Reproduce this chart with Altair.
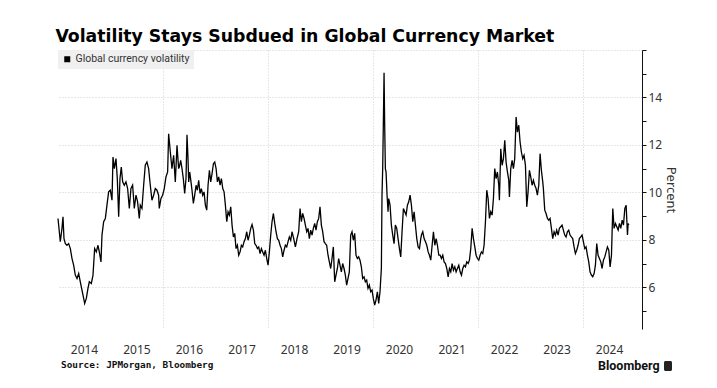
import altair as alt
import pandas as pd

# ---- data (decimal year, percent) ----
years_a = [2014.000, 2014.025, 2014.044, 2014.076, 2014.095, 2014.114, 2014.140, 2014.171, 2014.203, 2014.235,
           2014.267, 2014.298, 2014.330, 2014.362, 2014.394, 2014.425, 2014.457, 2014.489, 2014.508, 2014.540,
           2014.571, 2014.597, 2014.635, 2014.667, 2014.698, 2014.730, 2014.762, 2014.787, 2014.819, 2014.838,
           2014.870, 2014.902, 2014.933, 2014.965, 2014.997, 2015.029, 2015.048, 2015.073, 2015.105, 2015.130,
           2015.156, 2015.181, 2015.206, 2015.232, 2015.263, 2015.295, 2015.327, 2015.359, 2015.390, 2015.422,
           2015.454, 2015.486, 2015.517, 2015.549, 2015.568, 2015.600, 2015.632, 2015.663, 2015.695, 2015.727,
           2015.759, 2015.790, 2015.822, 2015.854, 2015.886, 2015.917, 2015.930, 2015.962, 2015.994, 2016.025,
           2016.057, 2016.089, 2016.108, 2016.140, 2016.171, 2016.203, 2016.235, 2016.267, 2016.298]
vals_a = [8.90, 8.34, 7.92, 8.48, 8.97, 8.05, 7.84, 7.77, 7.84, 7.63,
          7.21, 6.93, 6.51, 6.37, 6.58, 6.23, 5.88, 5.53, 5.32, 5.53,
          5.95, 6.23, 6.16, 6.51, 7.63, 7.49, 7.77, 7.49, 7.07, 8.20,
          8.76, 8.90, 9.46, 10.02, 10.09, 9.67, 11.49, 11.00, 11.42, 10.58,
          8.97, 10.58, 11.07, 10.44, 10.30, 10.44, 10.16, 9.32, 10.16, 10.30,
          9.32, 9.88, 9.60, 8.90, 9.46, 9.32, 10.30, 11.14, 11.28, 11.00,
          10.30, 9.67, 9.88, 10.16, 10.09, 9.88, 9.32, 9.74, 9.88, 10.16,
          10.65, 10.86, 12.47, 11.70, 11.00, 11.56, 10.44, 11.98, 11.00]

years_b = [2016.311, 2016.337, 2016.362, 2016.387, 2016.413, 2016.438, 2016.457, 2016.476, 2016.489, 2016.508,
           2016.533, 2016.552, 2016.578, 2016.603, 2016.629, 2016.654, 2016.679, 2016.705, 2016.730, 2016.756,
           2016.781, 2016.806, 2016.832, 2016.857, 2016.883, 2016.908, 2016.933, 2016.959, 2016.984, 2017.010,
           2017.035, 2017.060, 2017.086, 2017.111, 2017.137, 2017.162, 2017.187, 2017.213, 2017.238, 2017.263,
           2017.289, 2017.314, 2017.340, 2017.365, 2017.390, 2017.416, 2017.441, 2017.467, 2017.492, 2017.517,
           2017.543, 2017.568, 2017.594, 2017.619, 2017.644, 2017.670, 2017.695, 2017.721, 2017.746, 2017.771,
           2017.797, 2017.822, 2017.848, 2017.873, 2017.898, 2017.924, 2017.949, 2017.975, 2018.000, 2018.025,
           2018.051, 2018.076, 2018.102, 2018.127, 2018.152, 2018.178, 2018.203, 2018.229, 2018.254, 2018.279,
           2018.305, 2018.330, 2018.356, 2018.381, 2018.406, 2018.432]
vals_b = [11.07, 11.35, 11.00, 10.58, 9.95, 10.58, 12.43, 11.42, 10.44, 10.86,
          10.44, 10.09, 9.53, 9.88, 10.30, 10.09, 10.51, 9.95, 10.16, 9.88,
          10.02, 9.46, 9.25, 10.30, 10.93, 10.44, 10.79, 11.21, 11.28, 11.00,
          10.44, 10.65, 10.30, 10.58, 10.16, 10.02, 9.46, 8.76, 9.18, 9.04,
          9.39, 8.62, 8.12, 8.27, 7.63, 7.77, 7.35, 7.49, 7.77, 7.70,
          7.92, 8.05, 8.34, 7.98, 8.20, 8.48, 8.64, 8.41, 7.84, 7.77,
          7.63, 7.70, 7.42, 7.63, 7.49, 7.35, 7.56, 7.21, 6.93, 7.49,
          8.20, 8.76, 9.11, 8.69, 8.34, 8.05, 7.98, 7.77, 7.63, 7.28,
          7.56, 7.77, 7.70, 7.92, 8.12, 7.98]

years_c = [2018.457, 2018.489, 2018.521, 2018.552, 2018.584, 2018.610, 2018.635, 2018.660, 2018.686, 2018.711,
           2018.737, 2018.762, 2018.787, 2018.813, 2018.838, 2018.863, 2018.889, 2018.914, 2018.940, 2018.965,
           2018.990, 2019.016, 2019.041, 2019.067, 2019.092, 2019.117, 2019.143, 2019.168, 2019.194, 2019.219,
           2019.244, 2019.270, 2019.295, 2019.321, 2019.346, 2019.371, 2019.397, 2019.422, 2019.448, 2019.473,
           2019.498, 2019.524, 2019.549, 2019.575, 2019.600, 2019.625, 2019.651, 2019.676, 2019.702, 2019.727,
           2019.752, 2019.778, 2019.803, 2019.829, 2019.854, 2019.879, 2019.905, 2019.930, 2019.956, 2019.981,
           2020.006, 2020.032, 2020.057, 2020.083, 2020.108, 2020.133, 2020.159, 2020.171, 2020.184, 2020.197,
           2020.210, 2020.222, 2020.235, 2020.248, 2020.267, 2020.286, 2020.298, 2020.324, 2020.349, 2020.375,
           2020.400, 2020.425, 2020.451, 2020.476, 2020.502, 2020.527, 2020.552, 2020.578, 2020.603, 2020.629,
           2020.654, 2020.679, 2020.705, 2020.730, 2020.756, 2020.781, 2020.806, 2020.832, 2020.857, 2020.883,
           2020.908]
vals_c = [8.34, 8.05, 7.70, 8.05, 8.34, 9.32, 8.76, 9.11, 8.90, 8.62,
          8.34, 8.48, 8.05, 8.41, 8.20, 8.48, 8.69, 8.41, 8.76, 8.90,
          9.39, 8.62, 8.34, 7.92, 7.84, 7.77, 7.35, 7.07, 6.79, 7.21,
          7.70, 6.23, 6.51, 6.79, 7.21, 6.93, 6.65, 7.00, 6.79, 6.51,
          6.09, 6.37, 6.65, 8.20, 8.34, 7.98, 8.27, 7.35, 7.21, 7.28,
          7.14, 6.86, 6.37, 6.44, 6.23, 6.30, 5.95, 6.09, 5.81, 5.88,
          5.53, 5.25, 5.46, 5.81, 5.32, 5.81, 6.79, 9.88, 11.00, 12.97,
          15.04, 12.83, 11.00, 10.86, 9.88, 9.18, 9.74, 9.46, 8.62, 8.20,
          7.84, 8.62, 8.48, 8.05, 7.63, 7.28, 8.34, 9.32, 9.18, 9.04,
          9.46, 9.60, 9.88, 9.46, 8.76, 9.18, 8.62, 8.05, 7.70, 7.63,
          8.05]

years_d = [2020.921, 2020.946, 2020.971, 2020.997, 2021.022, 2021.048, 2021.073, 2021.098, 2021.124, 2021.149,
           2021.175, 2021.200, 2021.225, 2021.251, 2021.276, 2021.302, 2021.327, 2021.352, 2021.378, 2021.403,
           2021.429, 2021.454, 2021.479, 2021.505, 2021.530, 2021.556, 2021.581, 2021.606, 2021.632, 2021.657,
           2021.683, 2021.708, 2021.733, 2021.759, 2021.784, 2021.810, 2021.835, 2021.860, 2021.886, 2021.911,
           2021.937, 2021.962, 2021.987, 2022.013, 2022.038, 2022.063, 2022.089, 2022.114, 2022.140, 2022.165,
           2022.190, 2022.216, 2022.241, 2022.267, 2022.292, 2022.317, 2022.343, 2022.368, 2022.394, 2022.406,
           2022.432, 2022.457, 2022.483, 2022.508, 2022.533, 2022.559, 2022.584, 2022.597, 2022.622, 2022.648,
           2022.673, 2022.698, 2022.724, 2022.749, 2022.775, 2022.800, 2022.825, 2022.851, 2022.876, 2022.902,
           2022.927, 2022.952, 2022.978, 2023.003, 2023.029, 2023.054, 2023.079, 2023.105, 2023.130, 2023.156,
           2023.181, 2023.206, 2023.232]
vals_d = [8.20, 8.34, 8.05, 7.92, 7.77, 7.49, 7.35, 7.14, 7.77, 8.34,
          7.77, 8.05, 7.77, 7.35, 7.35, 7.21, 7.35, 7.07, 7.00, 6.79,
          6.44, 6.79, 6.65, 7.00, 6.72, 6.86, 6.65, 6.79, 6.93, 6.65,
          6.51, 6.79, 6.93, 6.86, 7.07, 7.00, 7.14, 7.63, 8.48, 8.05,
          7.70, 7.35, 7.21, 7.14, 7.35, 7.49, 7.42, 7.77, 8.76, 10.09,
          9.74, 8.90, 9.18, 9.04, 9.74, 11.00, 10.58, 10.86, 10.30, 9.67,
          11.84, 11.14, 11.42, 12.19, 11.28, 10.86, 10.51, 9.81, 11.00, 11.35,
          11.00, 11.42, 13.18, 12.54, 12.83, 12.12, 11.70, 11.42, 11.56, 11.14,
          9.39, 10.02, 10.93, 10.65, 10.30, 10.51, 10.30, 10.16, 9.88, 10.30,
          11.63, 10.93, 10.44]

years_e = [2023.244, 2023.270, 2023.295, 2023.321, 2023.346, 2023.371, 2023.397, 2023.422, 2023.448, 2023.473,
           2023.498, 2023.524, 2023.549, 2023.575, 2023.600, 2023.625, 2023.651, 2023.676, 2023.702, 2023.727,
           2023.752, 2023.778, 2023.803, 2023.829, 2023.854, 2023.879, 2023.905, 2023.930, 2023.956, 2023.981,
           2024.006, 2024.032, 2024.057, 2024.083, 2024.108, 2024.133, 2024.159, 2024.184, 2024.210, 2024.235,
           2024.260, 2024.286, 2024.311, 2024.337, 2024.362, 2024.387, 2024.413, 2024.438, 2024.463, 2024.489,
           2024.514, 2024.540, 2024.565, 2024.590, 2024.616, 2024.641, 2024.667, 2024.692, 2024.717, 2024.743,
           2024.768, 2024.794, 2024.819, 2024.844, 2024.857, 2024.870]
vals_e = [10.16, 9.25, 9.11, 8.90, 8.83, 8.90, 8.48, 8.05, 8.34, 8.20,
          8.41, 8.20, 8.48, 8.55, 8.62, 8.41, 8.20, 8.12, 8.34, 8.41,
          8.20, 8.12, 8.05, 7.70, 7.42, 7.56, 7.77, 8.05, 8.12, 8.20,
          7.92, 7.63, 7.70, 7.35, 7.07, 6.65, 6.51, 6.44, 6.58, 6.93,
          7.84, 7.35, 7.21, 7.07, 6.79, 7.14, 7.28, 7.49, 7.70, 7.56,
          6.86, 7.35, 9.32, 8.48, 8.69, 8.55, 8.41, 8.69, 8.48, 8.83,
          8.62, 9.32, 9.46, 8.20, 8.69, 8.62]

series_name = "Global currency volatility"
title_text = "Volatility Stays Subdued in Global Currency Market"
source_text = "Source: JPMorgan, Bloomberg"
brand_text = "Bloomberg"
year_ticks = list(range(2014, 2025))
y_ticks = list(range(5, 17))


def to_date(y):
    yr = int(y)
    start = pd.Timestamp(yr, 1, 1)
    end = pd.Timestamp(yr + 1, 1, 1)
    return start + (end - start) * (y - yr)


years = years_a + years_b + years_c + years_d + years_e
vals = vals_a + vals_b + vals_c + vals_d + vals_e
df = pd.DataFrame({
    "date": [to_date(y) for y in years],
    "value": vals,
    "series": series_name,
})

FONT = "Noto Sans"
GRID = "#cfcfcf"

x_scale = alt.Scale(domain=[alt.DateTime(year=2014, month=1, date=1),
                            alt.DateTime(year=2025, month=2, date=14)])
y_scale = alt.Scale(domain=[4.24, 16], nice=False, zero=False)

line = alt.Chart(df).mark_line(strokeWidth=1.3, color="black").encode(
    x=alt.X("date:T", scale=x_scale, title=None,
            axis=alt.Axis(
                values=[alt.DateTime(year=y, month=1, date=1) for y in year_ticks],
                format="%Y", labelOffset=26, labelAlign="center",
                labelPadding=15, labelFontSize=12, labelFont=FONT, labelColor="#333333",
                ticks=False, domain=False, grid=True, gridColor=GRID, gridDash=[1, 2],
                gridOpacity={"condition": {"test": "year(datum.value) % 2 == 0 && year(datum.value) > 2014",
                                           "value": 1}, "value": 0},
            )),
    y=alt.Y("value:Q", scale=y_scale, title="Percent",
            axis=alt.Axis(
                orient="right", values=y_ticks,
                labelExpr="datum.value % 2 == 0 && datum.value < 16 ? datum.label : ''",
                labelFontSize=12, labelFont=FONT, labelColor="#333333", labelPadding=2,
                tickSize=4, tickColor="#111111", domainColor="#111111",
                grid=True, gridColor=GRID, gridDash=[1, 2],
                gridOpacity={"condition": {"test": "datum.value % 2 == 0", "value": 1}, "value": 0},
                titleFontSize=13, titleFont=FONT, titleFontWeight="normal", titleColor="#333333",
                titlePadding=2,
            )),
    stroke=alt.Stroke("series:N", scale=alt.Scale(range=["#000000"]),
                      legend=alt.Legend(title=None, orient="top-left", offset=0, padding=4,
                                        fillColor="#f0f0f0", symbolType="square", symbolSize=36,
                                        symbolFillColor="#000000", symbolStrokeWidth=0,
                                        labelFontSize=10.5, labelFont="Roboto", labelColor="#333333",
                                        labelOffset=3)),
)

note_df = pd.DataFrame({"source": [source_text], "brand": [brand_text]})

source = alt.Chart(note_df).mark_text(align="left", baseline="middle", fontSize=9.4,
                                      fontWeight="bold", font="DejaVu Sans Mono", color="#111111").encode(
    x=alt.value(3), y=alt.value(315), text="source:N")

brand = alt.Chart(note_df).mark_text(align="left", baseline="middle", fontSize=12.5,
                                     fontWeight="bold", font="Roboto", color="#111111").encode(
    x=alt.value(540), y=alt.value(316), text="brand:N")

logo = alt.Chart(note_df).mark_rect(color="#222222", cornerRadius=1.5).encode(
    x=alt.value(606), x2=alt.value(614), y=alt.value(311), y2=alt.value(321))

chart = alt.layer(line, source, brand, logo).properties(
    width=584, height=279,
    title=alt.TitleParams(title_text, anchor="start", fontSize=17.3, fontWeight="bold",
                          font="DejaVu Sans", color="#000000", offset=4),
    padding={"left": 47, "top": 20, "right": 5, "bottom": 5},
).configure_view(stroke=None)

chart.save("out.html", embed_options={"renderer": "svg", "actions": False})
